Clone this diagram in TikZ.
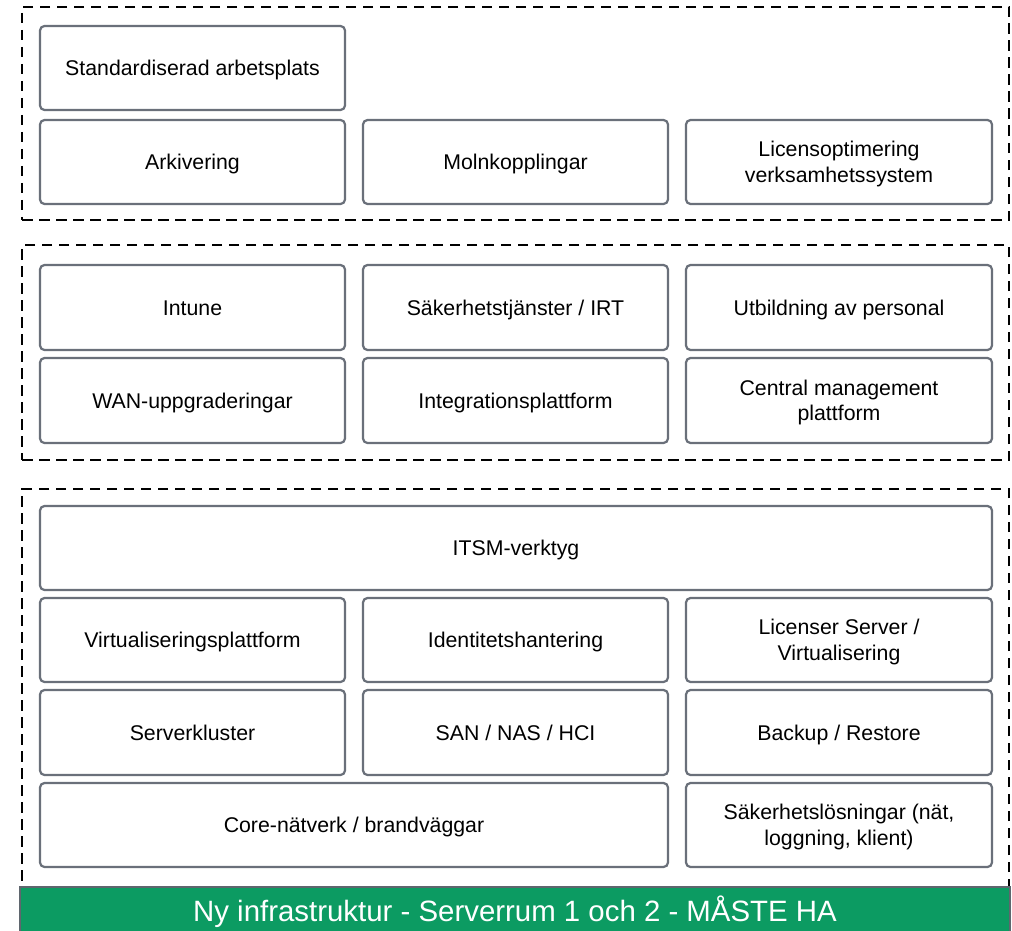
\documentclass[tikz,border=0pt]{standalone}
\usepackage{fontspec}
\setmainfont{Liberation Sans}
\definecolor{cellgrey}{RGB}{106,112,122}
\definecolor{bargreen}{RGB}{12,155,98}
\definecolor{bargrey}{RGB}{95,102,110}
\tikzset{
  container/.style={draw=black, line width=2.8pt, dash pattern=on 10.5pt off 6.5pt, inner sep=0pt},
  cell/.style={draw=cellgrey, line width=2.2pt, rounded corners=4.5pt, fill=white, inner sep=0pt, align=center, font=\fontsize{21.3}{25.5}\selectfont},
  bar/.style={draw=bargrey, line width=1.5pt, fill=bargreen, inner sep=0pt, text=white, font=\fontsize{29.4}{34}\selectfont}
}
% \cellbox{name}{x1}{y1}{x2}{y2}{text}
\newcommand{\cellbox}[6]{%
  \node[cell, minimum width={(#4-#2)*1pt}, minimum height={(#5-#3)*1pt}] (#1) at ({(#2+#4)/2},{-(#3+#5)/2})
    {\raisebox{-2.5pt}[\height][\depth]{\begin{tabular}{@{}c@{}}#6\end{tabular}}};}
\newcommand{\contbox}[5]{%
  \node[container, minimum width={(#4-#2)*1pt}, minimum height={(#5-#3)*1pt}] (#1) at ({(#2+#4)/2},{-(#3+#5)/2}) {};}
\begin{document}
\begin{tikzpicture}[x=1pt,y=1pt]
\clip (0,0) rectangle (1012,-931);
\fill[white] (0,0) rectangle (1012,-931);
% containers
\contbox{c1}{22}{7}{1009}{220}
\contbox{c2}{22}{245}{1009}{460}
\contbox{c3}{22}{489}{1009}{905}
% top group
\cellbox{std}{40}{26}{345}{110}{Standardiserad arbetsplats}
\cellbox{ark}{40}{120}{345}{204}{Arkivering}
\cellbox{moln}{363}{120}{668}{204}{Molnkopplingar}
\cellbox{lic}{686}{120}{992}{204}{Licensoptimering\\verksamhetssystem}
% middle group
\cellbox{intune}{40}{265}{345}{350}{Intune}
\cellbox{sak}{363}{265}{668}{350}{Säkerhetstjänster / IRT}
\cellbox{utb}{686}{265}{992}{350}{Utbildning av personal}
\cellbox{wan}{40}{358}{345}{443}{WAN-uppgraderingar}
\cellbox{integ}{363}{358}{668}{443}{Integrationsplattform}
\cellbox{cmp}{686}{358}{992}{443}{Central management\\plattform}
% bottom group
\cellbox{itsm}{40}{506}{992}{590}{ITSM-verktyg}
\cellbox{virt}{40}{598}{345}{682}{Virtualiseringsplattform}
\cellbox{ident}{363}{598}{668}{682}{Identitetshantering}
\cellbox{licsrv}{686}{598}{992}{682}{Licenser Server /\\Virtualisering}
\cellbox{srvk}{40}{690}{345}{775}{Serverkluster}
\cellbox{san}{363}{690}{668}{775}{SAN / NAS / HCI}
\cellbox{backup}{686}{690}{992}{775}{Backup / Restore}
\cellbox{core}{40}{783}{668}{867}{Core-nätverk / brandväggar}
\cellbox{saklos}{686}{783}{992}{867}{Säkerhetslösningar (nät,\\loggning, klient)}
% green bar
\node[bar, minimum width=990pt, minimum height=50pt] (infra) at (515,-912) {Ny infrastruktur - Serverrum 1 och 2 - MÅSTE HA};
\end{tikzpicture}
\end{document}
